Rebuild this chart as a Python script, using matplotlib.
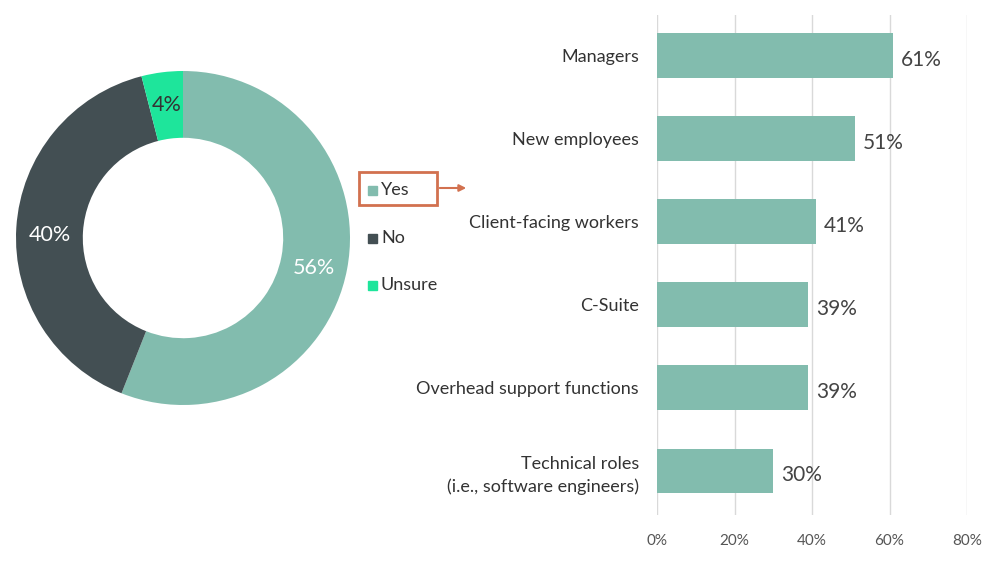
"""Donut of yes/no/unsure answers next to a bar chart of groups."""
import matplotlib
matplotlib.use("Agg")
import numpy as np
import matplotlib.pyplot as plt
from matplotlib.patches import Rectangle, FancyArrowPatch

plt.rcParams["font.family"] = ["Lato", "DejaVu Sans"]

answer_labels = ["Yes", "No", "Unsure"]
answer_shares = [56, 40, 4]
answer_colors = ["#82BCAE", "#434F53", "#1EE59B"]

groups = [
    "Managers",
    "New employees",
    "Client-facing workers",
    "C-Suite",
    "Overhead support functions",
    "Technical roles\n(i.e., software engineers)",
]
group_shares = [61, 51, 41, 39, 39, 30]
x_ticks = [0, 20, 40, 60, 80]

W, H = 1000, 575
fig = plt.figure(figsize=(W / 100, H / 100), dpi=100)


def px_axes(x0, y0, x1, y1):
    return fig.add_axes([x0 / W, 1 - y1 / H, (x1 - x0) / W, (y1 - y0) / H])


# donut
ax_pie = px_axes(16, 71, 350, 405)
wedges, _ = ax_pie.pie(
    answer_shares,
    colors=answer_colors,
    startangle=90,
    counterclock=False,
    radius=1,
    wedgeprops=dict(width=0.4, edgecolor="none"),
)
ax_pie.set_xlim(-1, 1)
ax_pie.set_ylim(-1, 1)
label_colors = ["white", "white", "#333333"]
label_shift = [-0.03, -0.03, 0.0]
for w, val, c, dy in zip(wedges, answer_shares, label_colors, label_shift):
    ang = np.deg2rad((w.theta1 + w.theta2) / 2)
    r = 0.8
    ax_pie.text(r * np.cos(ang), r * np.sin(ang) + dy, f"{val}%", ha="center",
                va="center", fontsize=15.5, color=c)

# legend drawn in figure coordinates
legend_y = [190, 238, 285]
for lab, col, y in zip(answer_labels, answer_colors, legend_y):
    fig.patches.append(Rectangle((368 / W, 1 - (y + 5) / H), 9 / W, 9 / H,
                                 transform=fig.transFigure, color=col))
    fig.text(381 / W, 1 - y / H, lab, fontsize=13, color="#333333",
             va="center", ha="left")

fig.patches.append(Rectangle((359 / W, 1 - 205 / H), 78 / W, 33 / H,
                             transform=fig.transFigure, fill=False,
                             edgecolor="#D2714F", linewidth=2))
fig.patches.append(FancyArrowPatch((437 / W, 1 - 188 / H), (469 / W, 1 - 188 / H),
                                   transform=fig.transFigure, arrowstyle="-|>",
                                   mutation_scale=10, color="#D2714F",
                                   linewidth=1.5))

# bars
ax = px_axes(657, 15, 967, 515)
pos = list(range(len(groups)))
ax.barh(pos, group_shares, height=0.54, color="#82BCAE", zorder=3)
for p, v in zip(pos, group_shares):
    ax.text(v + 2, p + 0.05, f"{v}%", va="center", ha="left", fontsize=15,
            color="#444444")
ax.set_xlim(0, 80)
ax.set_ylim(5.53, -0.49)
ax.set_xticks(x_ticks)
ax.set_xticklabels([f"{t}%" for t in x_ticks])
ax.set_yticks(pos)
ax.set_yticklabels(groups, fontsize=13, color="#333333", linespacing=1.45)
ax.tick_params(axis="x", length=0, pad=14, labelsize=11, labelcolor="#555555")
ax.tick_params(axis="y", length=0, pad=13)
for lbl in ax.get_yticklabels():
    lbl.set_horizontalalignment("right")
    lbl.set_multialignment("right")
ax.grid(axis="x", color="#D9D9D9", linewidth=1, zorder=0)
for s in ax.spines.values():
    s.set_visible(False)

fig.savefig("out.png", dpi=100, facecolor="white")
